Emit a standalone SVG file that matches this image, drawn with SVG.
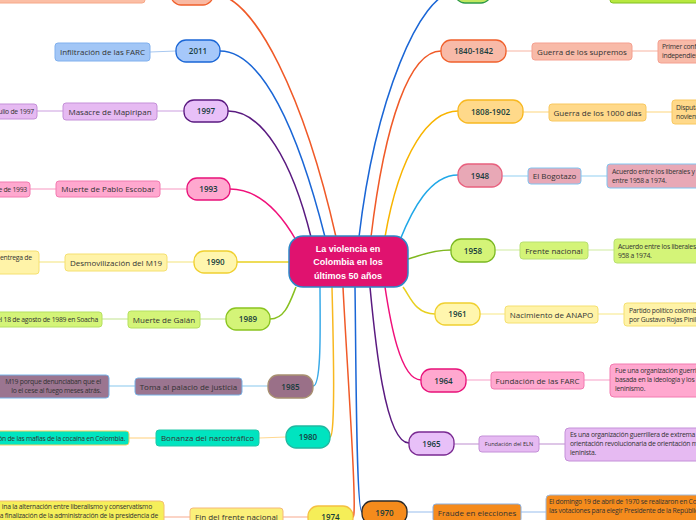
<svg xmlns="http://www.w3.org/2000/svg" width="696" height="520" viewBox="0 0 696 520">
<style>
.yr{font-family:"Open Sans","Noto Sans",sans-serif;font-size:8px;font-weight:600;fill:#163c3c;text-anchor:middle}
.lb{font-family:"Open Sans","Noto Sans",sans-serif;font-size:8px;fill:#333;text-anchor:middle}
.ds{font-family:"Open Sans","Noto Sans",sans-serif;font-size:6.8px;fill:#333;letter-spacing:-0.25px}
.ctr{font-family:"Liberation Sans",Arial,sans-serif;font-size:9px;font-weight:bold;fill:#fff;text-anchor:middle}
.c path{fill:none;stroke-width:1.5}
.c line{stroke-width:1.2}
.y{stroke-width:1.3}
.b{stroke-width:1}
</style>
<rect width="696" height="520" fill="#fff"/>
<g class="c" id="connectors">
<path d="M213,-6 C255,-6 305,100 336,237" stroke="#f05a28"/>
<path d="M220,51 C262,51 298,130 325,237" stroke="#1a66d6"/>
<path d="M228,111 C262,111 292,160 311,237" stroke="#5a1a80"/>
<path d="M230,189 C258,189 280,212 296,240" stroke="#f0107a"/>
<path d="M237,262 L289,262" stroke="#e8d020"/>
<path d="M270,319 C285,319 290,302 296,287" stroke="#88c020"/>
<path d="M313,386 C322,386 320,320 320,287" stroke="#3aaae8"/>
<path d="M330,437 C336,437 333,330 332,287" stroke="#f8b820"/>
<path d="M353,517 C358,517 346,350 343,287" stroke="#f05a28"/>
<path d="M455,-8 C420,-8 375,100 359,237" stroke="#1a66d6"/>
<path d="M441,51 C410,51 385,120 371,237" stroke="#f05a28"/>
<path d="M458,111 C430,111 400,150 385,237" stroke="#f8b400"/>
<path d="M458,175 C430,175 412,210 400,240" stroke="#20a8e8"/>
<path d="M451,250 C430,250 420,256 408,259" stroke="#80b820"/>
<path d="M435,314 C415,314 410,296 403,287" stroke="#e8d020"/>
<path d="M421,380 C400,380 390,320 385,287" stroke="#f0107a"/>
<path d="M409,443 C385,443 375,340 370,287" stroke="#5a1a80"/>
<path d="M362,512 C356,512 356,350 355,287" stroke="#1a66d6"/>
<line x1="145" y1="-6" x2="171" y2="-6" stroke="#f8c0a8"/>
<line x1="150" y1="52" x2="176" y2="51" stroke="#a8c8f0"/>
<line x1="157" y1="111" x2="184" y2="111" stroke="#d4ade4"/>
<line x1="37" y1="111" x2="63" y2="111" stroke="#d4ade4"/>
<line x1="160" y1="189" x2="187" y2="189" stroke="#f8a8cc"/>
<line x1="30" y1="189" x2="56" y2="189" stroke="#f8a8cc"/>
<line x1="167" y1="262" x2="194" y2="262" stroke="#f6e890"/>
<line x1="39" y1="262" x2="65" y2="262" stroke="#f6e890"/>
<line x1="200" y1="319" x2="226" y2="319" stroke="#cce8a0"/>
<line x1="102" y1="319" x2="128" y2="319" stroke="#cce8a0"/>
<line x1="242" y1="386" x2="268" y2="386" stroke="#9cd0f0"/>
<line x1="109" y1="386" x2="135" y2="386" stroke="#9cd0f0"/>
<line x1="259" y1="438" x2="286" y2="437" stroke="#ffd890"/>
<line x1="129" y1="438" x2="156" y2="438" stroke="#ffd890"/>
<line x1="283" y1="517" x2="308" y2="517" stroke="#f8b8a0"/>
<line x1="164" y1="517" x2="190" y2="517" stroke="#f8b8a0"/>
<line x1="506" y1="51" x2="532" y2="51" stroke="#f8c0b0"/>
<line x1="632" y1="51" x2="658" y2="51" stroke="#f8c0b0"/>
<line x1="523" y1="112" x2="549" y2="112" stroke="#fddc90"/>
<line x1="646" y1="112" x2="672" y2="112" stroke="#fddc90"/>
<line x1="502" y1="176" x2="528" y2="176" stroke="#a4d8f4"/>
<line x1="581" y1="176" x2="607" y2="176" stroke="#a4d8f4"/>
<line x1="495" y1="250" x2="520" y2="250" stroke="#d8eeb0"/>
<line x1="588" y1="250" x2="614" y2="250" stroke="#d8eeb0"/>
<line x1="480" y1="314" x2="505" y2="314" stroke="#f8ec98"/>
<line x1="598" y1="314" x2="624" y2="314" stroke="#f8ec98"/>
<line x1="466" y1="380" x2="491" y2="380" stroke="#f8b0d0"/>
<line x1="584" y1="380" x2="610" y2="380" stroke="#f8b0d0"/>
<line x1="454" y1="444" x2="479" y2="444" stroke="#c9a0d8"/>
<line x1="539" y1="444" x2="565" y2="444" stroke="#c9a0d8"/>
<line x1="407" y1="512" x2="433" y2="512" stroke="#a8c8f0"/>
<line x1="521" y1="512" x2="546" y2="512" stroke="#a8c8f0"/>
</g>

<g id="center">
<rect x="289" y="236" width="119" height="51" rx="14" fill="#e0126f" stroke="#2c88c8" stroke-width="1.5"/>
<text class="ctr" x="348" y="252">La violencia en</text>
<text class="ctr" x="348" y="265">Colombia en los</text>
<text class="ctr" x="348" y="279">últimos 50 años</text>
</g>

<g id="n-top-left">
<rect x="-5" y="-14" width="150" height="17" rx="3" fill="#fbbea5" stroke="#f6a888" class="b"/>
<rect x="171" y="-17" width="42" height="22" rx="10" fill="#f9b9a3" stroke="#f0602c" class="y"/>
</g>
<g id="n2011">
<rect x="176" y="40" width="44" height="22" rx="10" fill="#a6c8fa" stroke="#1a66d6" class="y"/>
<text class="yr" x="198" y="54">2011</text>
<rect x="55" y="43" width="95" height="18" rx="3" fill="#a2c6f6" stroke="#80b0ee" class="b"/>
<text class="lb" x="102.5" y="55">Infiltración de las FARC</text>
</g>
<g id="n1997">
<rect x="184" y="100" width="44" height="22" rx="10" fill="#e8c0f8" stroke="#5a1a80" class="y"/>
<text class="yr" x="206" y="114">1997</text>
<rect x="63" y="103" width="94" height="17" rx="3" fill="#e6baf2" stroke="#c490d8" class="b"/>
<text class="lb" x="110" y="114.5">Masacre de Mapiripan</text>
<rect x="-60" y="104" width="97" height="15" rx="3" fill="#e6baf2" stroke="#c490d8" class="b"/>
<text class="ds" x="34" y="113.8" text-anchor="end">ulio de 1997</text>
</g>
<g id="n1993">
<rect x="187" y="178" width="43" height="22" rx="10" fill="#ffa8cf" stroke="#e8127a" class="y"/>
<text class="yr" x="208.5" y="192">1993</text>
<rect x="56" y="181" width="104" height="16" rx="3" fill="#ffa8cf" stroke="#f27ab0" class="b"/>
<text class="lb" x="108" y="192">Muerte de Pablo Escobar</text>
<rect x="-60" y="182" width="90" height="15" rx="3" fill="#ffa8cf" stroke="#f27ab0" class="b"/>
<text class="ds" x="27" y="191.8" text-anchor="end">e de 1993</text>
</g>
<g id="n1990">
<rect x="194" y="251" width="43" height="22" rx="10" fill="#fff6ae" stroke="#f0d030" class="y"/>
<text class="yr" x="215.5" y="265">1990</text>
<rect x="65" y="254" width="102" height="17" rx="3" fill="#fff3a8" stroke="#f5e070" class="b"/>
<text class="lb" x="116" y="265.5">Desmovilización del M19</text>
<rect x="-60" y="251" width="99" height="23" rx="3" fill="#fff3a8" stroke="#f5e070" class="b"/>
<text class="ds" x="0" y="260">entrega de</text>
</g>
<g id="n1989">
<rect x="226" y="308" width="44" height="22" rx="10" fill="#d4f478" stroke="#8ac420" class="y"/>
<text class="yr" x="248" y="322">1989</text>
<rect x="128" y="311" width="72" height="17" rx="3" fill="#d4f478" stroke="#b5e060" class="b"/>
<text class="lb" x="164" y="322.5">Muerte de Galán</text>
<rect x="-80" y="312" width="182" height="15" rx="3" fill="#d4f478" stroke="#b5e060" class="b"/>
<text class="ds" x="98" y="321.8" text-anchor="end">el 18 de agosto de 1989 en Soacha</text>
</g>
<g id="n1985">
<rect x="268" y="375" width="45" height="23" rx="10" fill="#9a7088" stroke="#a89070" class="y"/>
<text class="yr" x="290.5" y="389.5">1985</text>
<rect x="135" y="378" width="107" height="17" rx="3" fill="#9b7590" stroke="#78b4e8" class="b"/>
<text class="lb" x="188.5" y="389.5">Toma al palacio de justicia</text>
<rect x="-100" y="375" width="209" height="23" rx="3" fill="#9b7590" stroke="#78b4e8" class="b"/>
<text class="ds" x="101" y="384" text-anchor="end">M19 porque denunciaban que el</text>
<text class="ds" x="101" y="393" text-anchor="end">lo el cese al fuego meses atrás.</text>
</g>
<g id="n1980">
<rect x="286" y="426" width="44" height="22" rx="10" fill="#00e4c0" stroke="#20b8a0" class="y"/>
<text class="yr" x="308" y="440">1980</text>
<rect x="156" y="430" width="103" height="16" rx="3" fill="#00e4c0" stroke="#20c8a8" class="b"/>
<text class="lb" x="207.5" y="441">Bonanza del narcotráfico</text>
<rect x="-100" y="431" width="229" height="14" rx="3" fill="#00e4c0" stroke="#f0d060" class="b"/>
<text class="ds" x="125" y="440.5" text-anchor="end">ón de las mafias de la cocaína en Colombia.</text>
</g>
<g id="n1974">
<rect x="308" y="506" width="45" height="22" rx="10" fill="#f5ee58" stroke="#f5c040" class="y"/>
<text class="yr" x="330.5" y="520">1974</text>
<rect x="190" y="508" width="93" height="18" rx="3" fill="#fbf07a" stroke="#f5b878" class="b"/>
<text class="lb" x="236.5" y="519.5">Fin del frente nacional</text>
<rect x="-150" y="501" width="314" height="30" rx="4" fill="#f5ef5a" stroke="#f5c070" class="b"/>
<text class="ds" x="152" y="509" text-anchor="end">ina la alternación entre liberalismo y conservatismo</text>
<text class="ds" x="158" y="518" text-anchor="end">a finalización de la administración de la presidencia de</text>
</g>

<g id="n-top-right">
<rect x="455" y="-20" width="36" height="23" rx="10" fill="#c2e860" stroke="#2e9a48" class="y"/>
<rect x="610" y="-20" width="100" height="23" rx="3" fill="#b8e840" stroke="#80c020" class="b"/>
</g>
<g id="n1840">
<rect x="441" y="40" width="65" height="22" rx="10" fill="#f8baa8" stroke="#f0602c" class="y"/>
<text class="yr" x="473.5" y="54">1840-1842</text>
<rect x="532" y="43" width="100" height="17" rx="3" fill="#f8baa8" stroke="#f5a090" class="b"/>
<text class="lb" x="582" y="54.5">Guerra de los supremos</text>
<rect x="658" y="40" width="60" height="23" rx="3" fill="#f8baa8" stroke="#f5a090" class="b"/>
<text class="ds" x="662" y="49">Primer conflicto</text>
<text class="ds" x="662" y="58">independiente</text>
</g>
<g id="n1808">
<rect x="458" y="100" width="65" height="23" rx="10" fill="#ffd98a" stroke="#f8b820" class="y"/>
<text class="yr" x="490.5" y="114.5">1808-1902</text>
<rect x="549" y="104" width="97" height="17" rx="3" fill="#ffd98a" stroke="#f8c860" class="b"/>
<text class="lb" x="597.5" y="115.5">Guerra de los 1000 días</text>
<rect x="672" y="100" width="60" height="24" rx="3" fill="#ffd98a" stroke="#f8c860" class="b"/>
<text class="ds" x="676" y="109.5">Disputa</text>
<text class="ds" x="676" y="118.5">noviembre</text>
</g>
<g id="n1948">
<rect x="458" y="164" width="44" height="23" rx="10" fill="#e8a8b6" stroke="#e8607e" class="y"/>
<text class="yr" x="480" y="178.5">1948</text>
<rect x="528" y="168" width="53" height="16" rx="3" fill="#e8a8b6" stroke="#80c4f0" class="b"/>
<text class="lb" x="554.5" y="179">El Bogotazo</text>
<rect x="607" y="164" width="120" height="24" rx="3" fill="#e8a8b6" stroke="#80c4f0" class="b"/>
<text class="ds" x="612" y="173.5">Acuerdo entre los liberales y</text>
<text class="ds" x="612" y="182.5">entre 1958 a 1974.</text>
</g>
<g id="n1958">
<rect x="451" y="239" width="44" height="23" rx="10" fill="#d4f478" stroke="#7ab820" class="y"/>
<text class="yr" x="473" y="253.5">1958</text>
<rect x="520" y="242" width="68" height="17" rx="3" fill="#d4f478" stroke="#b8e070" class="b"/>
<text class="lb" x="554" y="253.5">Frente nacional</text>
<rect x="614" y="239" width="110" height="24" rx="3" fill="#d4f478" stroke="#b8e070" class="b"/>
<text class="ds" x="618" y="248.5">Acuerdo entre los liberales</text>
<text class="ds" x="618" y="257.5">958 a 1974.</text>
</g>
<g id="n1961">
<rect x="435" y="303" width="45" height="22" rx="10" fill="#fff6ae" stroke="#f0d030" class="y"/>
<text class="yr" x="457.5" y="317">1961</text>
<rect x="505" y="306" width="93" height="17" rx="3" fill="#fff3a8" stroke="#f5e070" class="b"/>
<text class="lb" x="551.5" y="317.5">Nacimiento de ANAPO</text>
<rect x="624" y="303" width="100" height="23" rx="3" fill="#fff3a8" stroke="#f5e070" class="b"/>
<text class="ds" x="629" y="312.5">Partido político colombiano</text>
<text class="ds" x="629" y="321.5">por Gustavo Rojas Pinilla</text>
</g>
<g id="n1964">
<rect x="421" y="369" width="45" height="23" rx="10" fill="#ffa8cf" stroke="#e8127a" class="y"/>
<text class="yr" x="443.5" y="383.5">1964</text>
<rect x="491" y="372" width="93" height="17" rx="3" fill="#ffa8cf" stroke="#f27ab0" class="b"/>
<text class="lb" x="537.5" y="383.5">Fundación de las FARC</text>
<rect x="610" y="364" width="100" height="33" rx="4" fill="#ffa8cf" stroke="#f27ab0" class="b"/>
<text class="ds" x="615" y="373">Fue una organización guerrillera</text>
<text class="ds" x="615" y="382">basada en la ideología y los</text>
<text class="ds" x="615" y="391">leninismo.</text>
</g>
<g id="n1965">
<rect x="409" y="432" width="45" height="23" rx="10" fill="#e8c0f8" stroke="#7a2a92" class="y"/>
<text class="yr" x="431.5" y="446.5">1965</text>
<rect x="479" y="436" width="60" height="16" rx="3" fill="#e6baf2" stroke="#c490d8" class="b"/>
<text class="lb" x="509" y="446" style="font-size:5.6px">Fundación del ELN</text>
<rect x="565" y="428" width="150" height="33" rx="4" fill="#e6baf2" stroke="#c490d8" class="b"/>
<text class="ds" x="570" y="437">Es una organización guerrillera de extrema</text>
<text class="ds" x="570" y="446">orientación revolucionaria de orientación m</text>
<text class="ds" x="570" y="455">leninista.</text>
</g>
<g id="n1970">
<rect x="362" y="501" width="45" height="23" rx="10" fill="#f58b1c" stroke="#2a2a2a" class="y"/>
<text class="yr" x="384.5" y="515.5">1970</text>
<rect x="433" y="504" width="88" height="18" rx="3" fill="#f58b1c" stroke="#8ab0e0" class="b"/>
<text class="lb" x="477" y="515.5">Fraude en elecciones</text>
<rect x="546" y="495" width="160" height="30" rx="4" fill="#f58b1c" stroke="#a0b8d8" class="b"/>
<text class="ds" x="549" y="504">El domingo 19 de abril de 1970 se realizaron en Colombia</text>
<text class="ds" x="549" y="513">las votaciones para elegir Presidente de la República</text>
</g>
</svg>
